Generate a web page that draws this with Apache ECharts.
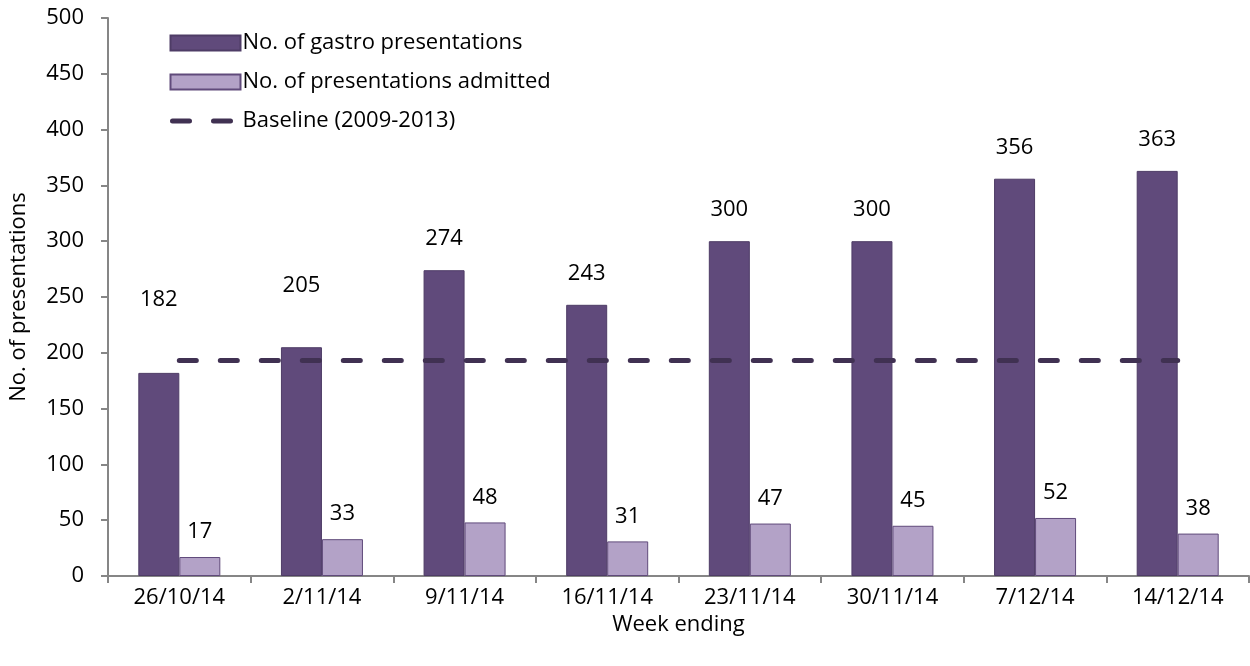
<!DOCTYPE html>
<html>
<head>
<meta charset="utf-8">
<script src="https://cdn.jsdelivr.net/npm/echarts@6/dist/echarts.min.js"></script>
<style>
  html, body { margin: 0; padding: 0; background: #fff; }
  #chart { width: 1250px; height: 666px; }
</style>
</head>
<body>
<div id="chart"></div>
<script>
// week ending dates
var weeks = ['26/10/14', '2/11/14', '9/11/14', '16/11/14', '23/11/14', '30/11/14', '7/12/14', '14/12/14'];
var gastro = [182, 205, 274, 243, 300, 300, 356, 363];
var admitted = [17, 33, 48, 31, 47, 45, 52, 38];
var baseline = [193, 193, 193, 193, 193, 193, 193, 193];

var font = '"Open Sans", sans-serif';
var fs = 22;

// first two labels sit above the baseline line in the original
var gastroData = gastro.map(function (v, i) {
  var d = { value: v };
  if (i === 0) d.label = { distance: 62 };
  if (i === 1) d.label = { distance: 50 };
  return d;
});

var dash = { color: '#403152', width: 5, type: [17, 24], cap: 'round' };

var chart = echarts.init(document.getElementById('chart'));
chart.setOption({
  animation: false,
  textStyle: { fontFamily: font },
  grid: { left: 108, right: 1, top: 18, bottom: 90 },
  legend: {
    orient: 'vertical',
    left: 163,
    top: 27,
    itemWidth: 70,
    itemHeight: 15,
    itemGap: 17,
    textStyle: { fontSize: fs, color: '#000', fontFamily: font, padding: [0, 0, 0, -3] },
    data: [
      { name: 'No. of gastro presentations', icon: 'rect' },
      { name: 'No. of presentations admitted', icon: 'rect' },
      { name: 'Baseline (2009-2013)', itemStyle: { opacity: 0 }, lineStyle: { color: '#403152', width: 5, type: [17, 24], cap: 'round', dashOffset: -2 } }
    ]
  },
  xAxis: {
    type: 'category',
    data: weeks,
    name: 'Week ending',
    nameLocation: 'middle',
    nameGap: 32,
    nameTextStyle: { fontSize: fs, color: '#000' },
    axisLine: { lineStyle: { color: '#868686', width: 2 } },
    axisTick: { show: true, length: 7, lineStyle: { color: '#868686', width: 2 } },
    axisLabel: { fontSize: fs, color: '#000', margin: 11 }
  },
  yAxis: {
    type: 'value',
    min: 0,
    max: 500,
    interval: 50,
    name: 'No. of presentations',
    nameLocation: 'middle',
    nameGap: 78,
    nameTextStyle: { fontSize: fs, color: '#000' },
    axisLine: { show: true, lineStyle: { color: '#868686', width: 2 } },
    axisTick: { show: true, length: 7, lineStyle: { color: '#868686', width: 2 } },
    axisLabel: { fontSize: fs, color: '#000', margin: 24 },
    splitLine: { show: false }
  },
  series: [
    {
      name: 'No. of gastro presentations',
      type: 'bar',
      data: gastroData,
      barWidth: 41,
      barGap: '0%',
      itemStyle: { color: '#604A7B', borderColor: '#4E3C66', borderWidth: 1 },
      label: { show: true, position: 'top', distance: 20, fontSize: fs, color: '#000' }
    },
    {
      name: 'No. of presentations admitted',
      type: 'bar',
      data: admitted,
      barWidth: 41,
      barGap: '0%',
      itemStyle: { color: '#B3A2C7', borderColor: '#604A7B', borderWidth: 1 },
      label: { show: true, position: 'top', distance: 14, fontSize: fs, color: '#000' }
    },
    {
      name: 'Baseline (2009-2013)',
      type: 'line',
      data: baseline,
      symbol: 'none',
      z: 5,
      lineStyle: dash,
      itemStyle: { color: '#403152' }
    }
  ]
});
</script>
</body>
</html>
